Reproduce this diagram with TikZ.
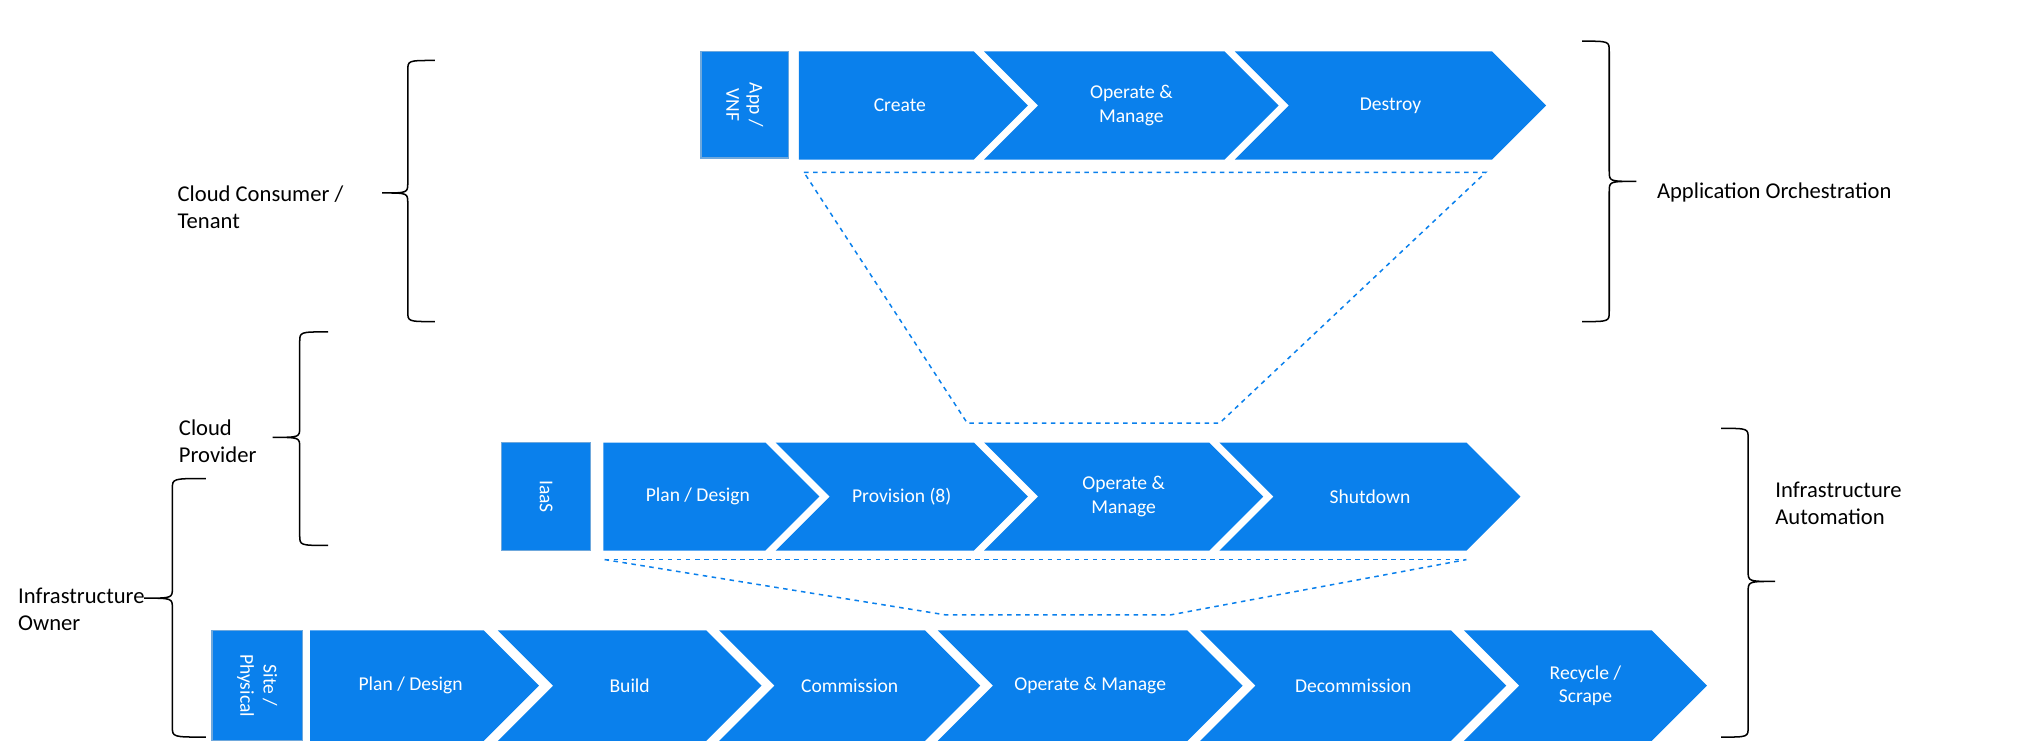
\documentclass[tikz,border=0pt]{standalone}
\usepackage{fontspec}
\setmainfont{Carlito}
\definecolor{stepblue}{HTML}{0A80EC}
\definecolor{edgeblue}{HTML}{6FA8DC}

% chevron step: #1 name, #2 left x, #3 right x, #4 top y, #5 bottom y, #6 text
\newcommand{\stepchev}[6]{%
  \pgfmathsetmacro{\mid}{(#4+#5)/2}\pgfmathsetmacro{\dd}{(#5-#4)/2}%
  \fill[stepblue] (#2,#4) -- (#3,#4) -- (#3+\dd,\mid) -- (#3,#5) -- (#2,#5) -- (#2+\dd,\mid) -- cycle;
  \node[steptext] (#1) at ({(#2+#3)/2+\dd/2},\mid) {#6};}
\newcommand{\firstchev}[6]{%
  \pgfmathsetmacro{\mid}{(#4+#5)/2}\pgfmathsetmacro{\dd}{(#5-#4)/2}%
  \fill[stepblue] (#2,#4) -- (#3,#4) -- (#3+\dd,\mid) -- (#3,#5) -- (#2,#5) -- cycle;
  \node[steptext] (#1) at ({(#2+#3)/2+\dd/4},\mid) {#6};}
% layer box: #1 name, #2 left, #3 top, #4 right, #5 bottom, #6 text
\newcommand{\layerbox}[6]{%
  \draw[draw=edgeblue, line width=1pt, fill=stepblue] (#2,#3) rectangle (#4,#5);
  \node[steptext, rotate=-90] (#1) at ({(#2+#4)/2},{(#3+#5)/2}) {#6};}
% curly bracket: #1 end x, #2 spine x, #3 tip x, #4 top, #5 bottom, #6 tip y
\newcommand{\curly}[6]{%
  \draw[line width=1pt] (#1,#4) .. controls (#2,#4) .. (#2,#4+8) -- (#2,#6-8)
    .. controls (#2,#6) .. (#3,#6) .. controls (#2,#6) .. (#2,#6+8)
    -- (#2,#5-8) .. controls (#2,#5) .. (#1,#5);}

\tikzset{
  steptext/.style={text=white, font=\fontsize{13}{15.5}\selectfont, align=center},
  zoomline/.style={stepblue, dashed, line width=1pt},
  role/.style={font=\fontsize{15}{18}\selectfont, align=left, anchor=west}
}

\begin{document}
\begin{tikzpicture}[x=0.03cm, y=-0.03cm]
  \useasboundingbox (0,0) rectangle (1568,576);

  % application layer
  \layerbox{app}{545}{40}{613}{123}{App /\\VNF}
  \firstchev{create}{621}{757}{40}{124}{Create}
  \stepchev{appop}{765}{952}{40}{124}{Operate \&\\Manage}
  \stepchev{destroy}{960}{1160}{40}{124}{Destroy}

  \coordinate (za1) at (625,134);  \coordinate (za2) at (1155,134);
  \coordinate (za3) at (948,329);  \coordinate (za4) at (752,329);
  \draw[zoomline] (za1) -- (za2) -- (za3) -- (za4) -- cycle;

  % infrastructure layer
  \layerbox{iaas}{390}{344}{459}{428}{IaaS}
  \firstchev{iplan}{469}{595}{344}{428}{Plan / Design}
  \stepchev{iprov}{603}{757}{344}{428}{Provision (8)}
  \stepchev{iop}{765}{940}{344}{428}{Operate \&\\Manage}
  \stepchev{ishut}{948}{1140}{344}{428}{Shutdown}

  \coordinate (zb1) at (470,435);  \coordinate (zb2) at (1140,435);
  \coordinate (zb3) at (910,478);  \coordinate (zb4) at (735,478);
  \draw[zoomline] (zb1) -- (zb2);
  \draw[zoomline] (zb1) -- (zb4) -- (zb3) -- (zb2);

  % physical layer
  \layerbox{site}{165}{490}{235}{576}{Site /\\Physical}
  \firstchev{pplan}{241}{376}{490}{576}{Plan / Design}
  \stepchev{pbuild}{387}{549}{490}{576}{Build}
  \stepchev{pcomm}{559}{719}{490}{576}{Commission}
  \stepchev{pop}{729}{923}{490}{576}{Operate \& Manage}
  \stepchev{pdecom}{933}{1128}{490}{576}{Decommission}
  \stepchev{precy}{1138}{1284}{490}{576}{Recycle /\\Scrape}

  % roles
  \curly{338}{317}{297}{47}{250}{150}
  \node[role] (tenant) at (134,161) {Cloud Consumer /\\Tenant};
  \curly{255}{233}{212}{258}{424}{340}
  \node[role] (provider) at (135,343) {Cloud\\Provider};
  \curly{160}{134}{112}{372}{573}{465}
  \node[role] (owner) at (10,474) {Infrastructure\\Owner};
  \curly{1230}{1251}{1272}{32}{250}{141}
  \node[role] (apporch) at (1284,150) {Application Orchestration};
  \curly{1338}{1359}{1380}{333}{573}{452}
  \node[role] (infauto) at (1376,391) {Infrastructure\\Automation};
\end{tikzpicture}
\end{document}
